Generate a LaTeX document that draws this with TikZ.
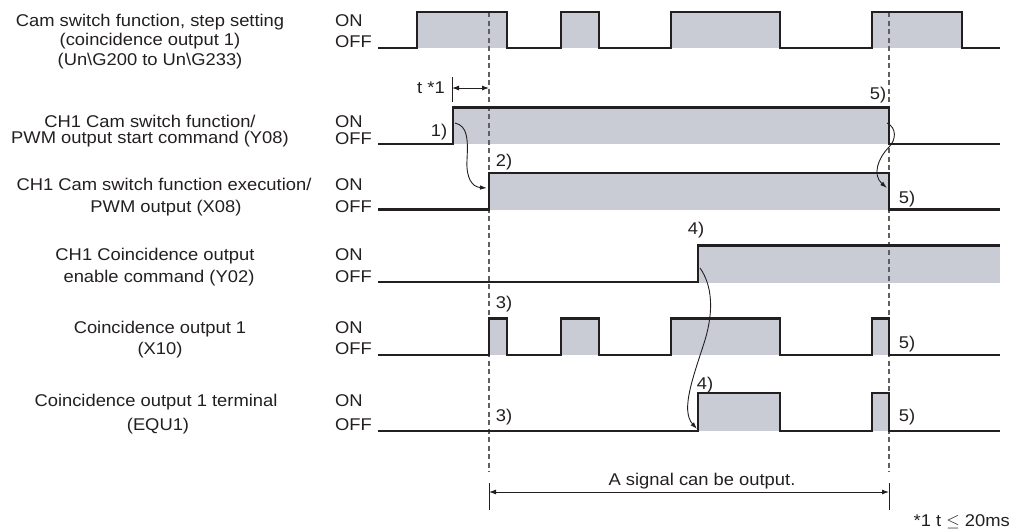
\documentclass[tikz,border=0pt]{standalone}
\usepackage{fontspec}
\setmainfont[FakeStretch=1.08]{Liberation Sans}
\usetikzlibrary{arrows.meta}
\definecolor{wline}{RGB}{35,31,32}
\definecolor{wfill}{RGB}{201,204,212}
\definecolor{dgray}{RGB}{95,95,95}
\begin{document}
\begin{tikzpicture}[x=1pt,y=-1pt,
  txt/.style={inner sep=0pt,font=\fontsize{17}{20}\selectfont,text=wline},
  lbl/.style={txt,anchor=base},
  onoff/.style={txt,anchor=base west},
  wave/.style={line width=2.3pt,draw=wline,line join=miter,line cap=butt},
  hi/.style={fill=wfill,draw=none},
  guide/.style={draw=dgray,line width=1.2pt,dash pattern=on 5pt off 3.5pt},
  thin/.style={draw=wline,line width=0.9pt},
  curv/.style={draw=wline,line width=0.9pt,-{Latex[length=7pt,width=4.5pt]}},
  dim/.style={draw=wline,line width=0.9pt,{Latex[length=7pt,width=5pt]}-{Latex[length=7pt,width=5pt]}}]
\useasboundingbox (0,0) rectangle (1012,531);

% ---------- left labels ----------
\node[lbl] (l1a) at (150,26) {Cam switch function, step setting};
\node[lbl] (l1b) at (150,45.5) {(coincidence output 1)};
\node[lbl] (l1c) at (150,65) {(Un\textbackslash G200 to Un\textbackslash G233)};
\node[lbl] (l2a) at (150,127) {CH1 Cam switch function/};
\node[lbl] (l2b) at (150,143.5) {PWM output start command (Y08)};
\node[lbl] (l3a) at (164,190) {CH1 Cam switch function execution/};
\node[lbl] (l3b) at (166,212.5) {PWM output (X08)};
\node[lbl] (l4a) at (155,260) {CH1 Coincidence output};
\node[lbl] (l4b) at (159,282) {enable command (Y02)};
\node[lbl] (l5a) at (160,333) {Coincidence output 1};
\node[lbl] (l5b) at (160,354) {(X10)};
\node[lbl] (l6a) at (156,406.5) {Coincidence output 1 terminal};
\node[lbl] (l6b) at (158,430) {(EQU1)};

% ---------- ON / OFF ----------
\node[onoff] (on1) at (335,26) {ON};    \node[onoff] (off1) at (335,47.5) {OFF};
\node[onoff] (on2) at (335,127) {ON};   \node[onoff] (off2) at (335,144) {OFF};
\node[onoff] (on3) at (335,190) {ON};   \node[onoff] (off3) at (335,212.5) {OFF};
\node[onoff] (on4) at (335,260) {ON};   \node[onoff] (off4) at (335,282) {OFF};
\node[onoff] (on5) at (335,333) {ON};   \node[onoff] (off5) at (335,354.5) {OFF};
\node[onoff] (on6) at (335,406.5) {ON}; \node[onoff] (off6) at (335,430.5) {OFF};

% ---------- gray fills ----------
\fill[hi] (417,12) rectangle (507,48);
\fill[hi] (561,12) rectangle (599,48);
\fill[hi] (671,12) rectangle (780,48);
\fill[hi] (872,12) rectangle (962,48);
\fill[hi] (453,107.5) rectangle (889,144);
\fill[hi] (489,172.7) rectangle (889,209.5);
\fill[hi] (698,245.5) rectangle (1000,283);
\fill[hi] (489,318.5) rectangle (507,355.3);
\fill[hi] (561,318.5) rectangle (599,355.3);
\fill[hi] (671,318.5) rectangle (780,355.3);
\fill[hi] (872,318.5) rectangle (889,355.3);
\fill[hi] (698,393.3) rectangle (780,430.7);
\fill[hi] (872,393.3) rectangle (889,430.7);

% ---------- dashed guides ----------
\coordinate (g1t) at (489,12);  \coordinate (g1b) at (489,472);
\coordinate (g2t) at (889,12);  \coordinate (g2b) at (889,472);
\draw[guide] (g1t) -- (g1b);
\draw[guide] (g2t) -- (g2b);

% ---------- waveforms ----------
\draw[wave] (378,48) -- (417,48) -- (417,12) -- (507,12) -- (507,48) -- (561,48) -- (561,12) -- (599,12) -- (599,48)
  -- (671,48) -- (671,12) -- (780,12) -- (780,48) -- (872,48) -- (872,12) -- (962,12) -- (962,48) -- (1000,48);
\draw[wave] (378,144) -- (453,144) -- (453,107.5) -- (889,107.5) -- (889,144) -- (1000,144);
\draw[wave] (378,209.5) -- (489,209.5) -- (489,172.7) -- (889,172.7) -- (889,209.5) -- (1000,209.5);
\draw[wave] (378,281.7) -- (698,281.7) -- (698,245.5) -- (1000,245.5);
\draw[wave] (378,355.3) -- (489,355.3) -- (489,318.5) -- (507,318.5) -- (507,355.3) -- (561,355.3) -- (561,318.5) -- (599,318.5) -- (599,355.3)
  -- (671,355.3) -- (671,318.5) -- (780,318.5) -- (780,355.3) -- (872,355.3) -- (872,318.5) -- (889,318.5) -- (889,355.3) -- (1000,355.3);
\draw[wave] (378,430.7) -- (698,430.7) -- (698,393.3) -- (780,393.3) -- (780,430.7) -- (872,430.7) -- (872,393.3) -- (889,393.3) -- (889,430.7) -- (1000,430.7);

% ---------- step labels ----------
\node[txt] (n1) at (439,132) {1)};
\node[txt] (n2) at (504,162) {2)};
\node[txt] (n5a) at (878,95) {5)};
\node[txt] (n5b) at (907,199) {5)};
\node[txt] (n4a) at (696,230.5) {4)};
\node[txt] (n3a) at (504,304) {3)};
\node[txt] (n5c) at (907,344) {5)};
\node[txt] (n4b) at (705,385) {4)};
\node[txt] (n3b) at (504,417.5) {3)};
\node[txt] (n5d) at (907,417.5) {5)};

% ---------- t *1 ----------
\node[txt] (tlab) at (431,87.5) {t *1};
\coordinate (tt1) at (452,77); \coordinate (tt2) at (452,102);
\coordinate (ta1) at (452,88); \coordinate (ta2) at (489,88);
\draw[thin] (tt1) -- (tt2);
\draw[dim] (ta1) -- (ta2);

% ---------- curved arrows ----------
\coordinate (c1s) at (455,123); \coordinate (c1e) at (487,188);
\draw[curv] (c1s) .. controls (468,126) and (468,140) .. (467,160) .. controls (466,178) and (472,187) .. (c1e);
\coordinate (c2s) at (887,123); \coordinate (c2e) at (887,188);
\draw[curv] (c2s) .. controls (897,128) and (896,140) .. (889,147) .. controls (878,158) and (872,175) .. (c2e);
\coordinate (c3s) at (700,268); \coordinate (c3e) at (697,429);
\draw[curv] (c3s) .. controls (712,285) and (714,310) .. (705,340) .. controls (694,375) and (680,410) .. (c3e);

% ---------- bottom span ----------
\coordinate (b1t) at (489,483); \coordinate (b1b) at (489,510);
\coordinate (b2t) at (889,483); \coordinate (b2b) at (889,510);
\coordinate (ba1) at (489,492); \coordinate (ba2) at (889,492);
\draw[thin] (b1t) -- (b1b);
\draw[thin] (b2t) -- (b2b);
\draw[dim] (ba1) -- (ba2);
\node[lbl] (sig) at (702,485) {A signal can be output.};
\node[txt,anchor=base east] (foot) at (1010,526) {*1 t $\leq$ 20ms};
\end{tikzpicture}
\end{document}
